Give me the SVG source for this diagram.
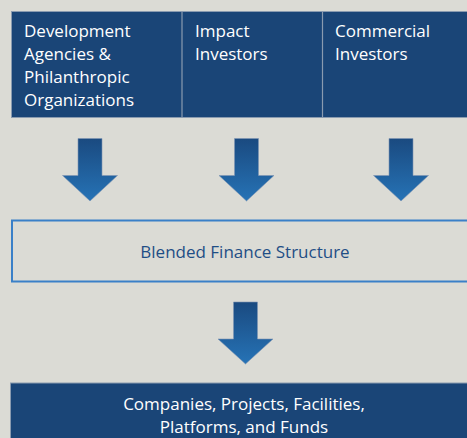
<svg xmlns="http://www.w3.org/2000/svg" width="467" height="438" viewBox="0 0 467 438">
<defs>
<linearGradient id="ag" x1="0" y1="0" x2="0" y2="1">
<stop offset="0" stop-color="#1a4a80"/>
<stop offset="1" stop-color="#2673b6"/>
</linearGradient>
<style>
.t{font-family:"Open Sans","Noto Sans",sans-serif;font-size:17px;fill:#ffffff}
.b{font-family:"Open Sans","Noto Sans",sans-serif;font-size:17px;fill:#1f4e85}
.arr{fill:url(#ag);stroke:#7f96b4;stroke-width:0.6}
</style>
</defs>
<rect width="467" height="438" fill="#dbdbd5"/>
<g id="sources">
<rect x="11.5" y="11.5" width="460" height="106" fill="#1a4577" stroke="#8a9bb0" stroke-width="1"/>
<line x1="182" y1="11.5" x2="182" y2="117.5" stroke="#8a9bb0" stroke-width="1.2"/>
<line x1="322.5" y1="11.5" x2="322.5" y2="117.5" stroke="#8a9bb0" stroke-width="1.2"/>
</g>
<g id="dev"><text class="t" x="24" y="37">Development<tspan x="24" dy="23">Agencies &amp;</tspan><tspan x="24" dy="23">Philanthropic</tspan><tspan x="24" dy="23">Organizations</tspan></text></g>
<g id="impact"><text class="t" x="195" y="37">Impact<tspan x="195" dy="23">Investors</tspan></text></g>
<g id="commercial"><text class="t" x="335" y="37">Commercial<tspan x="335" dy="23">Investors</tspan></text></g>
<g id="connectors">
<path class="arr" d="M78 138.5H102V175.5H117.5L90 201L62.5 175.5H78Z"/>
<path class="arr" d="M234.5 138.5H258.5V175.5H274L246.5 201L219 175.5H234.5Z"/>
<path class="arr" d="M389 138.5H413V175.5H428.5L401 201L373.5 175.5H389Z"/>
<path class="arr" d="M233.5 302H257.5V339H273L245.5 364L218 339H233.5Z"/>
</g>
<g id="blended">
<rect x="12" y="220.5" width="462" height="61" fill="none" stroke="#3a80c8" stroke-width="2"/>
<text class="b" x="245" y="258" text-anchor="middle">Blended Finance Structure</text>
</g>
<g id="targets">
<rect x="10.5" y="383" width="462" height="60" fill="#1a4577" stroke="#8a9bb0" stroke-width="1"/>
<text class="t" x="244" y="409.5" text-anchor="middle">Companies, Projects, Facilities,<tspan x="244" dy="23">Platforms, and Funds</tspan></text>
</g>
</svg>
